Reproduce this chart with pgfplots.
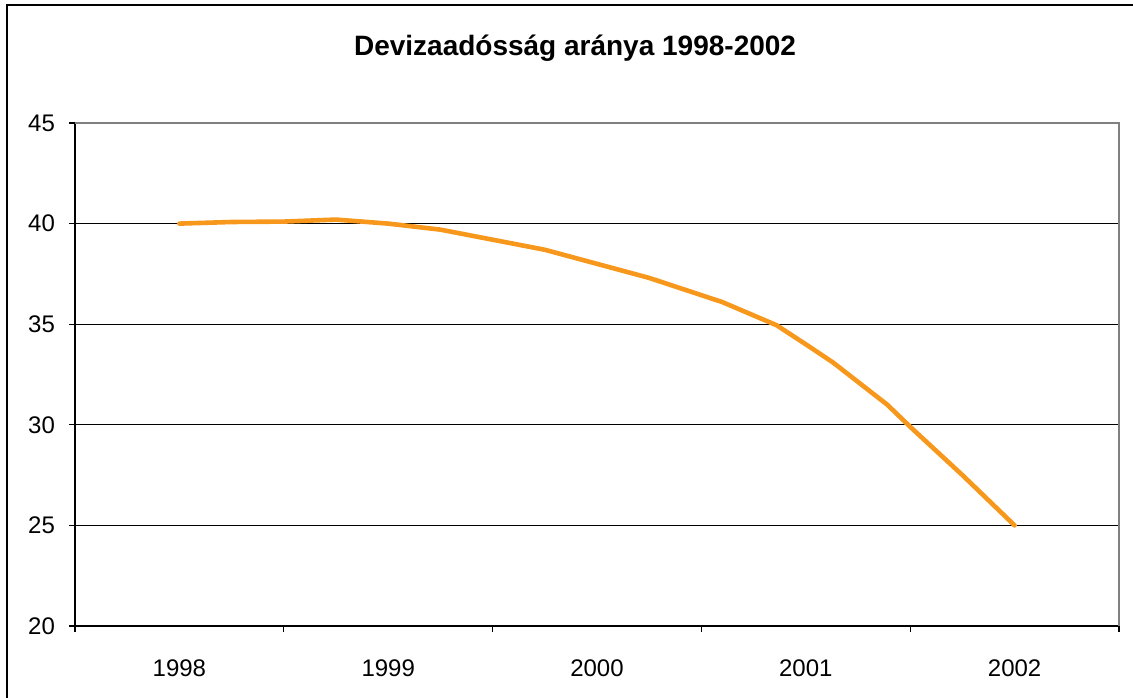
\documentclass[border=0pt]{standalone}
\usepackage{fontspec}
\setmainfont{Liberation Sans}
\usepackage{pgfplots}
\pgfplotsset{compat=1.18}
\definecolor{lineor}{HTML}{F7981D}
\begin{document}
\begin{tikzpicture}
\useasboundingbox (-37.5pt,-35.5pt) rectangle (529pt,313pt);
\draw[line width=0.8pt] (-34pt,-40pt) -- (-34pt,310.5pt) -- (540pt,310.5pt);
\begin{axis}[
  scale only axis,
  width=522pt, height=251.5pt,
  xmin=-0.5, xmax=4.5,
  ymin=20, ymax=45,
  xtick={0,1,2,3,4},
  xticklabels={1998,1999,2000,2001,2002},
  minor xtick={-0.5,0.5,1.5,2.5,3.5,4.5},
  ytick={20,25,30,35,40,45},
  axis lines=left,
  axis line style={-, black, line width=0.6pt},
  ymajorgrids,
  grid style={black, line width=0.5pt},
  major grid style={black, line width=0.5pt},
  tick style={black, line width=0.6pt},
  major tick length=3pt,
  minor tick length=3pt,
  major x tick style={draw=none},
  tick align=outside,
  ticklabel style={font=\fontsize{12}{14}\selectfont},
  /pgf/number format/assume math mode=true,
  xticklabel style={yshift=-10.5pt},
  yticklabel style={xshift=-3.5pt},
  clip=false,
]
\addplot[color=lineor, line width=2.3pt, line join=round, line cap=round] coordinates {
  (0,40.0) (0.25,40.08) (0.5,40.1) (0.75,40.2) (1,40.0) (1.25,39.7)
  (1.5,39.2) (1.75,38.7) (2,38.0) (2.25,37.3) (2.6,36.1) (2.86,34.95)
  (3,34.0) (3.13,33.1) (3.39,31.0) (3.5,29.9) (3.75,27.5) (4,25.0)
};
\draw[color=gray, line width=0.6pt] (rel axis cs:0,1) -- (rel axis cs:1,1) -- (rel axis cs:1,0);
\node[font=\bfseries\fontsize{14}{16}\selectfont, anchor=base] at (rel axis cs:0.479,1.135) {Devizaadósság aránya 1998-2002};
\end{axis}
\end{tikzpicture}
\end{document}
